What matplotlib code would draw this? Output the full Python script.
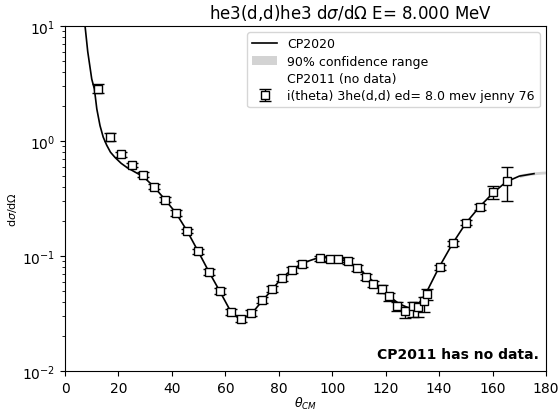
import matplotlib
matplotlib.use("Agg")
import matplotlib.pyplot as plt
import numpy as np
from matplotlib.lines import Line2D
from matplotlib.patches import Patch

# CP2020 curve (theta_cm in deg, dsigma/dOmega)
curve_theta = [7.5, 8.5, 10.0, 11.0, 11.9, 13.1, 14.3, 15.6, 17.0, 18.7, 21.0, 23.1,
               26.0, 29.3, 33.3, 37.4, 41.5, 45.7, 49.8, 53.9, 58.0, 62.0, 65.5,
               69.6, 73.7, 77.5, 81.0, 85.0, 89.0, 95.0, 100.0, 105.0, 110.0,
               115.0, 120.0, 125.0, 129.0, 132.0, 135.0, 140.0, 145.0, 150.0,
               155.0, 160.0, 165.0, 170.0, 175.5]
curve_val = [10.0, 6.0, 3.46, 2.83, 1.9, 1.36, 1.08, 0.92, 0.80, 0.72, 0.64, 0.59,
             0.54, 0.49, 0.40, 0.31, 0.237, 0.165, 0.110, 0.0726, 0.0490, 0.0330, 0.0280,
             0.0310, 0.0405, 0.0510, 0.0640, 0.0760, 0.0870, 0.0970, 0.0970, 0.0910, 0.0775,
             0.0610, 0.0470, 0.0385, 0.0350, 0.0375, 0.0470, 0.0800, 0.128, 0.193,
             0.266, 0.350, 0.440, 0.495, 0.520]
band_theta = [170.0, 173.0, 176.0, 178.0, 180.0]
band_lo = [0.480, 0.500, 0.510, 0.515, 0.518]
band_hi = [0.515, 0.530, 0.540, 0.545, 0.548]

# i(theta) 3he(d,d) ed= 8.0 mev jenny 76
data_theta = [12.35, 16.8, 21.0, 25.1, 29.2, 33.3, 37.4, 41.5, 45.7, 49.8, 53.9, 58.0,
              62.1, 65.9, 69.6, 73.7, 77.5, 81.2, 85.0, 88.7, 95.4, 99.2, 102.2, 105.9,
              109.3, 112.6, 115.4, 118.5, 121.4, 124.4, 127.2, 130.1, 132.1, 134.5,
              135.4, 140.2, 145.3, 150.2, 155.3, 160.3, 165.3]
data_val = [2.85, 1.08, 0.77, 0.62, 0.51, 0.40, 0.31, 0.237, 0.165, 0.110, 0.0726, 0.0497,
            0.0326, 0.0283, 0.0319, 0.0414, 0.0516, 0.0644, 0.0755, 0.0851, 0.0960, 0.0940,
            0.0940, 0.0905, 0.0787, 0.0660, 0.0575, 0.0520, 0.0445, 0.0365, 0.0333,
            0.0366, 0.0363, 0.0407, 0.0469, 0.0797, 0.129, 0.195, 0.268, 0.360, 0.452]
err_lo = [0.25, 0.08, 0.04, 0.03, 0.025, 0.02, 0.015, 0.012, 0.008, 0.006, 0.004, 0.003,
          0.002, 0.0017, 0.002, 0.0025, 0.003, 0.0035, 0.004, 0.0045, 0.005, 0.005,
          0.005, 0.005, 0.0045, 0.004, 0.0035, 0.004, 0.0035, 0.0035, 0.0046,
          0.0071, 0.0068, 0.0082, 0.0055, 0.004, 0.007, 0.01, 0.015, 0.047, 0.149]
err_hi = [0.25, 0.09, 0.04, 0.03, 0.025, 0.02, 0.015, 0.012, 0.008, 0.006, 0.004, 0.003,
          0.002, 0.0017, 0.002, 0.0025, 0.003, 0.0035, 0.004, 0.0045, 0.005, 0.005,
          0.005, 0.005, 0.0045, 0.004, 0.0035, 0.004, 0.0035, 0.0035, 0.003,
          0.003, 0.003, 0.003, 0.005, 0.004, 0.007, 0.01, 0.015, 0.05, 0.148]

plt.rcParams["font.family"] = ["DejaVu Sans"]
fig, ax = plt.subplots(figsize=(5.58, 4.14), dpi=100)
fig.subplots_adjust(left=0.1165, right=0.9785, top=0.9348, bottom=0.1014)

ax.fill_between(band_theta, band_lo, band_hi, color="lightgrey", lw=0)
ax.plot(curve_theta, curve_val, color="black", lw=1.2)
eb = ax.errorbar(data_theta, data_val, yerr=[err_lo, err_hi], fmt="s",
                 mfc="white", mec="black", color="black", ms=5.5, mew=1.0,
                 capsize=4, elinewidth=1.0, ecolor="black")

handles = [
    Line2D([], [], color="black", lw=1.2),
    Patch(facecolor="lightgrey", edgecolor="none"),
    Line2D([], [], linestyle="none"),
    eb,
]
labels = ["CP2020", "90% confidence range", "CP2011 (no data)",
          "i(theta) 3he(d,d) ed= 8.0 mev jenny 76"]
ax.legend(handles, labels, loc="upper right", fontsize=9, labelspacing=0.35)

ax.set_yscale("log")
ax.set_xlim(0, 180)
ax.set_ylim(1e-2, 1e1)
ax.set_xticks(np.arange(0, 181, 20))
ax.tick_params(labelsize=10)
ax.set_xlabel(r"$\theta_{CM}$", fontsize=9, labelpad=0)
ax.set_ylabel(r"d$\sigma$/d$\Omega$", fontsize=8, labelpad=2)
ax.yaxis.set_label_coords(-0.095, 0.47)
ax.set_title(r"he3(d,d)he3 d$\sigma$/d$\Omega$ E= 8.000 MeV", fontsize=12, x=0.593)
ax.text(0.985, 0.03, "CP2011 has no data.", transform=ax.transAxes,
        ha="right", va="bottom", fontweight="bold", fontsize=10)

plt.savefig("out.png", dpi=100)
